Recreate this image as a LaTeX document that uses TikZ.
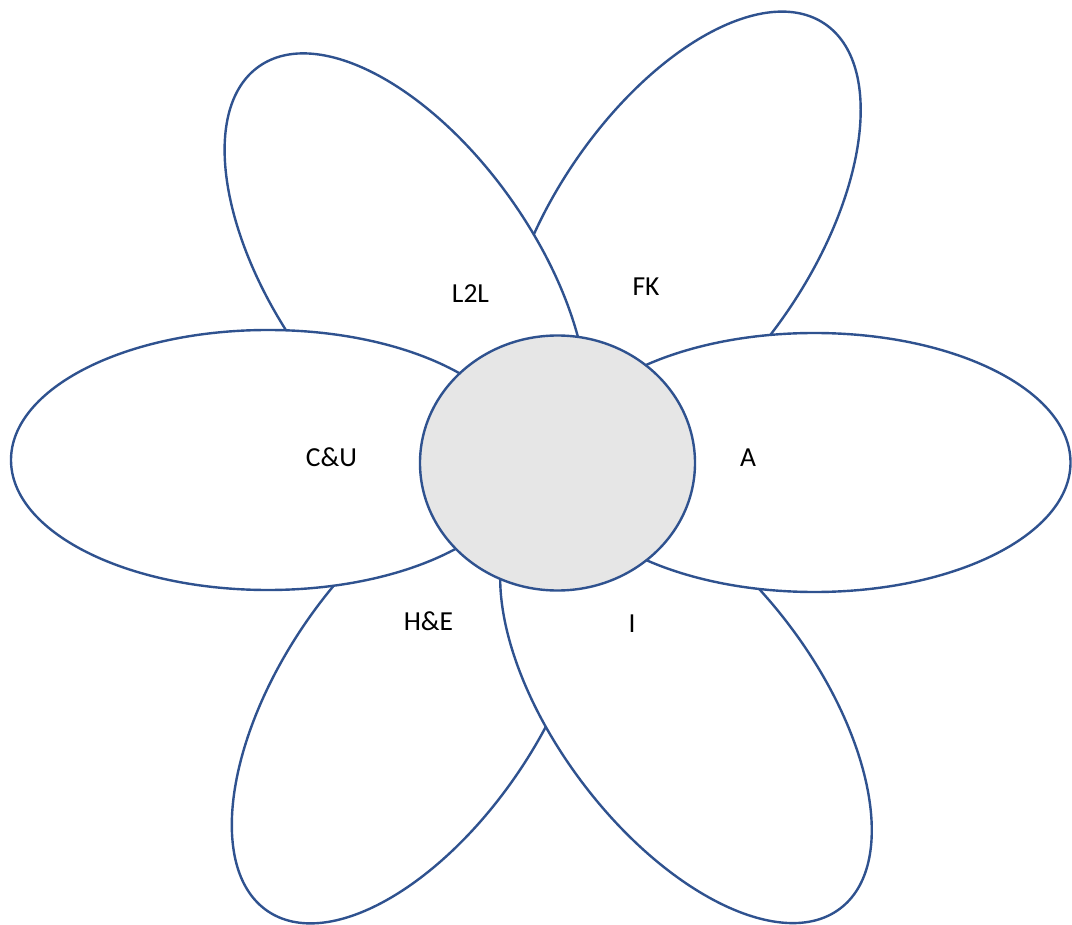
\documentclass[tikz,border=0pt]{standalone}
\usepackage{fontspec}
\setmainfont{Carlito}
\definecolor{petalblue}{HTML}{2F528F}
\definecolor{centergray}{HTML}{E6E6E6}
\begin{document}
\begin{tikzpicture}[x=1pt,y=-1pt,
  petal/.style={draw=petalblue, line width=2.4pt, fill=white},
  heart/.style={draw=petalblue, line width=2.4pt, fill=centergray},
  lbl/.style={font=\fontsize{27.5}{33}\selectfont, text=black, inner sep=0pt}]
\useasboundingbox (0,0) rectangle (1072,925);
% petal centres
\coordinate (cFK) at (681.5,236);
\coordinate (cLL) at (406,276);
\coordinate (cHE) at (411,699);
\coordinate (cI)  at (686,704);
\coordinate (cCU) at (268,460);
\coordinate (cA)  at (814.5,462.5);
\coordinate (cC)  at (557.5,463);
% petals, back to front
\draw[petal, rotate around={56:(cFK)}]  (cFK) ellipse [x radius=256pt, y radius=130pt];
\draw[petal, rotate around={-55:(cLL)}] (cLL) ellipse [x radius=256pt, y radius=130pt];
\draw[petal, rotate around={56:(cHE)}]  (cHE) ellipse [x radius=256pt, y radius=130pt];
\draw[petal, rotate around={-53:(cI)}]  (cI)  ellipse [x radius=256pt, y radius=130pt];
\draw[petal] (cCU) ellipse [x radius=257pt, y radius=130pt];
\draw[petal] (cA)  ellipse [x radius=256pt, y radius=129.5pt];
% centre
\draw[heart] (cC) ellipse [x radius=137.5pt, y radius=127.5pt];
% labels
\node[lbl] (l2l) at (470.5,293.5) {L2L};
\node[lbl] (fk)  at (646,286.5) {FK};
\node[lbl] (cu)  at (331.5,457.5) {C\&U};
\node[lbl] (a)   at (748,458) {A};
\node[lbl] (he)  at (428.5,621) {H\&E};
\node[lbl] (i)   at (632,624) {I};
\end{tikzpicture}
\end{document}
